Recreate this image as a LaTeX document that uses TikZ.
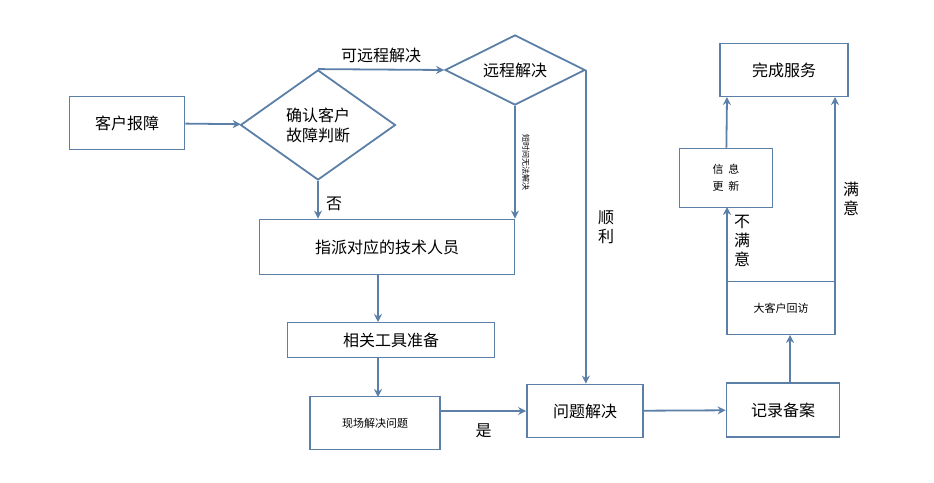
\documentclass[tikz,border=0pt]{standalone}
\usepackage{fontspec}
\setmainfont{Noto Sans CJK SC}
\usepackage{tikz}
\usetikzlibrary{shapes.geometric, arrows.meta, positioning, calc}
\definecolor{lineblue}{HTML}{5B7FA6}
\tikzstyle{box} = [rectangle, draw=lineblue, line width=1.8pt, align=center, inner sep=2pt, font=\fontsize{16}{19}\selectfont]
\tikzstyle{smallbox} = [box, font=\fontsize{11}{17}\selectfont]
\tikzstyle{decision} = [diamond, aspect=1.6, draw=lineblue, line width=1.8pt, inner sep=1pt, align=center, font=\fontsize{16}{20}\selectfont]
\tikzstyle{arrow} = [lineblue, line width=1.8pt, -{Stealth[length=8pt,width=8pt]}]
\tikzstyle{lbl} = [text=black, font=\fontsize{16}{19}\selectfont]

\begin{document}
\begin{tikzpicture}[x=1pt, y=-1pt]
        \useasboundingbox (0,0) rectangle (934,482);
        % Intake
        \node (report) [box, minimum width=115pt, minimum height=53pt] at (127,123) {客户报障};
        \node (judge) [decision, minimum width=155pt, minimum height=110pt] at (318,125) {确认客户\\故障判断};
        \node (remote) [decision, minimum width=140pt, minimum height=70pt] at (515,70) {远程解决};

        % On-site
        \node (assign) [box, minimum width=255pt, minimum height=55pt] at (387,247) {指派对应的技术人员};
        \node (tools) [box, minimum width=207pt, minimum height=35pt] at (391,340) {相关工具准备};
        \node (onsite) [smallbox, minimum width=130pt, minimum height=53pt] at (375,423) {现场解决问题};

        % Closing
        \node (solved) [box, minimum width=116pt, minimum height=53pt] at (585,411) {问题解决};
        \node (record) [box, minimum width=113pt, minimum height=54pt] at (783,410) {记录备案};
        \node (visit) [smallbox, minimum width=108pt, minimum height=53pt] at (781,308) {大客户回访};
        \node (update) [smallbox, minimum width=93pt, minimum height=59pt] at (726,178) {信\ \ 息\\更\ \ 新};
        \node (done) [box, minimum width=128pt, minimum height=53pt] at (784,70) {完成服务};

        % Arrows
        \draw [arrow] (report) -- (judge);
        \draw [arrow] (judge.north) -- (remote.west) node [lbl, midway, above=2pt] {可远程解决};
        \draw [arrow] (judge.south) -- (judge.south |- assign.north) node [lbl, pos=0.6, right=4pt] {否};
        \draw [arrow] (remote.south) -- (remote.south |- assign.north)
          node [midway, xshift=11pt, text=black, font=\fontsize{8}{8}\selectfont, rotate=-90] {短时间无法解决};
        \draw [arrow] (remote.east) -- (remote.east |- solved.north)
          node [lbl, midway, right=8pt, align=center] {顺\\利};
        \draw [arrow] (378,275) -- (378,322);
        \draw [arrow] (378,357) -- (378,397);
        \draw [arrow] (onsite.east |- solved) -- (solved) node [lbl, pos=0.5, below=8pt] {是};
        \draw [arrow] (solved) -- (record);
        \draw [arrow] (790,383) -- (790,335);
        \draw [arrow] (727,282) -- (727,207)
          node [lbl, pos=0.55, right=3pt, align=center] {不\\满\\意};
        \draw [arrow] (update) -- (727,97);
        \draw [arrow] (835,282) -- (835,97)
          node [lbl, pos=0.45, right=4pt, align=center] {满\\意};
      \end{tikzpicture}
\end{document}
